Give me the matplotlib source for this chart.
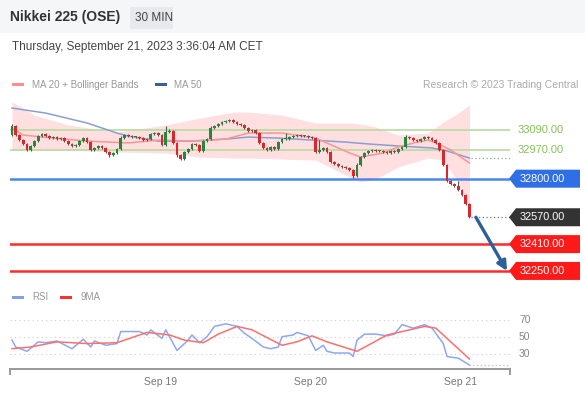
import matplotlib

matplotlib.use("Agg")
import matplotlib.pyplot as plt
from matplotlib.patches import Polygon, Rectangle
import numpy as np

plt.rcParams["font.family"] = ["Liberation Sans", "DejaVu Sans"]

# 30-minute candles, closes
CLOSES = [33114, 33060, 33030, 33007, 32971, 32995, 33024, 33054, 33066, 33054,
          33042, 33048, 33036, 33042, 33024, 33007, 32995, 33001, 33024, 33042,
          33018, 32971, 32983, 32995, 32983, 32959, 32941, 32953, 32977, 33042,
          33060, 33054, 33048, 33048, 33042, 33030, 33036, 33066, 33072, 33060,
          33001, 33078, 33084, 33013, 32941, 32917, 32959, 32977, 33007, 33001,
          32965, 33024, 33036, 33102, 33114, 33126, 33138, 33144, 33150, 33138,
          33126, 33120, 33102, 33084, 33090, 33072, 33013, 32983, 32971, 32989,
          32977, 33018, 33036, 33036, 33048, 33054, 33060, 33054, 33054, 33048,
          33042, 32959, 32971, 32983, 32959, 32899, 32887, 32876, 32870, 32864,
          32852, 32816, 32882, 32929, 32953, 32965, 32971, 32965, 32965, 32959,
          32953, 32965, 32959, 32977, 32989, 33048, 33042, 33030, 33024, 33036,
          33048, 33042, 33030, 33013, 32971, 32882, 32786, 32768, 32756, 32733,
          32703, 32649, 32570]
FIRST_OPEN = 33060
UPPER_WICK = [10, 6, 5, 6, 4, 6, 8, 6, 6, 5,
              4, 6, 5, 6, 4, 5, 4, 6, 5, 6,
              6, 5, 8, 6, 4, 5, 6, 5, 8, 10,
              6, 5, 4, 6, 5, 4, 5, 8, 6, 5,
              6, 36, 10, 6, 5, 4, 8, 6, 6, 5,
              4, 8, 6, 10, 8, 6, 8, 6, 8, 6,
              5, 6, 4, 6, 8, 5, 6, 4, 5, 6,
              4, 8, 6, 36, 6, 5, 6, 5, 4, 5,
              6, 5, 60, 6, 5, 4, 6, 5, 4, 5,
              4, 6, 10, 8, 6, 5, 6, 4, 5, 4,
              5, 6, 4, 6, 8, 12, 6, 5, 4, 6,
              5, 6, 4, 5, 6, 5, 6, 4, 5, 30,
              6, 5, 4]
LOWER_WICK = [6, 5, 6, 5, 8, 4, 5, 6, 4, 5,
              6, 4, 5, 4, 6, 5, 6, 4, 5, 6,
              5, 8, 4, 6, 5, 6, 12, 6, 5, 6,
              4, 5, 6, 4, 5, 6, 4, 5, 6, 5,
              8, 6, 4, 6, 10, 6, 5, 6, 4, 5,
              8, 6, 5, 6, 4, 5, 6, 4, 5, 6,
              4, 5, 6, 4, 5, 6, 8, 5, 6, 4,
              6, 5, 4, 6, 5, 4, 6, 5, 4, 6,
              5, 8, 6, 5, 6, 4, 6, 5, 6, 4,
              8, 12, 6, 4, 5, 6, 4, 5, 6, 4,
              6, 5, 4, 6, 5, 6, 4, 5, 6, 4,
              6, 5, 4, 6, 5, 6, 8, 6, 5, 6,
              5, 6, 6]

MA20_IDX = [0, 3, 11, 20, 31, 39, 48, 57, 63, 72, 81, 90, 93, 99, 103, 108, 111, 113, 117, 122]
MA20_VAL = [33102, 33060, 33042, 33024, 33013, 33030, 33024, 33036, 33072, 33072,
            33042, 32953, 32929, 32953, 32989, 33018, 33030, 33013, 32971, 32893]
MA50_IDX = [0, 9, 20, 28, 31, 39, 48, 57, 63, 71, 80, 89, 95, 103, 112, 116, 122]
MA50_VAL = [33221, 33191, 33132, 33072, 33054, 33024, 33024, 33036, 33048, 33042,
            33030, 33018, 33007, 32995, 32983, 32965, 32923]
BB_IDX = [0, 6, 15, 28, 41, 50, 59, 63, 72, 81, 90, 93, 97, 103, 111, 115, 119, 122]
BB_UPPER = [33257, 33179, 33120, 33078, 33120, 33161, 33197, 33197, 33179, 33132,
            33132, 33125, 33108, 33060, 33072, 33138, 33191, 33239]
BB_LOWER = [32971, 32971, 32971, 32959, 32953, 32929, 32923, 32923, 32917, 32911,
            32810, 32780, 32798, 32870, 32923, 32911, 32780, 32613]

GREEN_LEVELS = [33090, 32970]
BLUE_LEVEL = 32800
LAST_PRICE = 32570
RED_LEVELS = [32410, 32250]
TARGET = 32250

RSI_IDX = [0, 1, 4, 7, 9, 12, 16, 19, 21, 22, 25, 28, 29, 34, 36, 37, 40, 41, 44, 47,
           48, 50, 52, 54, 57, 60, 62, 64, 67, 69, 71, 72, 75, 76, 79, 81, 83, 84, 86, 88,
           90, 91, 92, 94, 97, 100, 102, 104, 107, 110, 112, 115, 116, 119, 122]
RSI_VAL = [46, 38, 33, 44, 43, 45, 36, 47, 38, 45, 40, 42, 56, 56, 52, 58, 48, 58, 34, 46,
           52, 43, 50, 62, 65, 62, 54, 48, 38, 36, 38, 50, 52, 55, 51, 34, 40, 33, 31, 31,
           31, 27, 46, 53, 53, 51, 53, 64, 60, 64, 60, 42, 27, 25, 17]
RSI_MA_IDX = [0, 5, 12, 20, 28, 36, 42, 46, 51, 55, 60, 64, 72, 76, 80, 84, 92, 100, 110, 113, 122]
RSI_MA_VAL = [36, 38, 44, 42, 43, 55, 52, 46, 43, 53, 62, 58, 40, 44, 51, 44, 33, 52, 62, 60, 24]
RSI_LEVELS = [70, 50, 30]

DAY_TICKS = [39.5, 79.5, 119.5]
DAY_LABELS = ["Sep 19", "Sep 20", "Sep 21"]

W, H = 585, 393
fig = plt.figure(figsize=(W / 100, H / 100), dpi=100)


def fx(px):
    return px / W


def fy(py):
    return 1 - py / H


def fig_rect(x0, y0, x1, y1, color):
    fig.patches.append(Rectangle((fx(x0), fy(y1)), fx(x1 - x0), (y1 - y0) / H,
                                 transform=fig.transFigure, color=color, lw=0, zorder=0))


# header
fig_rect(0, 0, W, 33, "#f5f6f7")
fig.text(fx(10), fy(17), "Nikkei 225 (OSE)", fontsize=10, weight="bold", color="#333333", va="center")
fig_rect(130, 7, 173, 29, "#e7e9ec")
fig.text(fx(135), fy(18), "30 MIN", fontsize=8.5, color="#444444", va="center")
fig.text(fx(12), fy(47), "Thursday, September 21, 2023 3:36:04 AM CET", fontsize=8.5,
         color="#444444", va="center")

# legends
fig_rect(12, 83, 24, 86, "#ff8f8f")
fig.text(fx(32), fy(84.5), "MA 20 + Bollinger Bands", fontsize=7, color="#999999", va="center")
fig_rect(155, 83, 167, 86, "#3d5e9e")
fig.text(fx(174), fy(84.5), "MA 50", fontsize=7, color="#999999", va="center")
fig.text(fx(578), fy(84.5), "Research \u00a9 2023 Trading Central", fontsize=7.5,
         color="#aaaaaa", va="center", ha="right")
fig_rect(12, 296, 24, 299, "#7f9ff0")
fig.text(fx(32), fy(297.5), "RSI", fontsize=7, color="#999999", va="center")
fig_rect(60, 296, 72, 299, "#ff3030")
fig.text(fx(80), fy(297.5), "9MA", fontsize=7, color="#999999", va="center")

# main price chart
ax = fig.add_axes([fx(10), fy(280), 500 / W, 180 / H])
ax.set_xlim(-0.53, 132.8)
ax.set_ylim(32196, 33269)
ax.axis("off")

closes = np.array(CLOSES, dtype=float)
opens = np.concatenate([[FIRST_OPEN], closes[:-1]])
idx = np.arange(len(closes))
top = np.maximum(opens, closes)
bot = np.minimum(opens, closes)
highs = top + np.array(UPPER_WICK)
lows = bot - np.array(LOWER_WICK)
up = closes >= opens
colors = np.where(up, "#1e8a3a", "#d9272e")

ax.fill_between(BB_IDX, BB_LOWER, BB_UPPER, color="#ffdfdf", lw=0, zorder=1)
for lvl in GREEN_LEVELS:
    ax.axhline(lvl, color="#b7dba0", lw=1.2, zorder=2)
ax.plot(MA50_IDX, MA50_VAL, color="#8a9fd0", lw=1.1, zorder=3)
ax.plot(MA20_IDX, MA20_VAL, color="#ff9494", lw=1.1, zorder=3)
ax.vlines(idx, lows, highs, color="#555555", lw=0.8, zorder=4)
ax.bar(idx, np.maximum(top - bot, 4), bottom=bot, width=0.75, color=colors, lw=0, zorder=5)

ax.axhline(BLUE_LEVEL, color="#4c86ea", lw=1.8, zorder=2)
for lvl in RED_LEVELS:
    ax.axhline(lvl, color="#ff2a2a", lw=1.8, zorder=2)
ax.hlines(LAST_PRICE, idx[-1] + 0.5, 132.8, color="#777777", lw=0.9, linestyles=(0, (1, 2)), zorder=2)
ax.hlines(MA50_VAL[-1], idx[-1] + 0.5, 132.8, color="#8a9fd0", lw=0.9, linestyles=(0, (1, 2)), zorder=2)

ax.annotate("", xy=(132.0, TARGET), xytext=(123.7, LAST_PRICE),
            arrowprops=dict(arrowstyle="-|>", color="#2d5f9a", lw=2.4, mutation_scale=14,
                            shrinkA=0, shrinkB=0), zorder=6)

yt = ax.get_yaxis_transform()
half = 9 * (33269 - 32196) / 180


def label_box(price, face):
    pts = [(0.998, price), (1.012, price + half), (1.14, price + half),
           (1.14, price - half), (1.012, price - half)]
    ax.add_patch(Polygon(pts, closed=True, transform=yt, color=face, lw=0, clip_on=False, zorder=7))
    ax.text(1.02, price, f"{price:.2f}", transform=yt, fontsize=7.8, color="white",
            va="center", ha="left", zorder=8, clip_on=False)


for lvl in GREEN_LEVELS:
    ax.text(1.016, lvl, f"{lvl:.2f}", transform=yt, fontsize=8, color="#86c05a",
            va="center", ha="left", clip_on=False)
label_box(BLUE_LEVEL, "#2f6fe6")
label_box(LAST_PRICE, "#333333")
for lvl in RED_LEVELS:
    label_box(lvl, "#ff1a1a")

# RSI panel
ax2 = fig.add_axes([fx(10), fy(369), 500 / W, 64 / H])
ax2.set_xlim(-0.53, 132.8)
ax2.set_ylim(12.4, 86.9)
for lvl in RSI_LEVELS:
    ax2.axhline(lvl, color="#cfcfcf", lw=0.8, ls=(0, (1, 3)))
    ax2.text(1.018, lvl, str(lvl), transform=ax2.get_yaxis_transform(), fontsize=7.5,
             color="#888888", va="center", ha="left")
ax2.plot(RSI_IDX, RSI_VAL, color="#8ea8f0", lw=1.1)
ax2.plot(RSI_MA_IDX, RSI_MA_VAL, color="#ff6e6e", lw=1.1)
ax2.hlines(RSI_VAL[-1], RSI_IDX[-1], 132.8, color="#a9bdf5", lw=0.9, linestyles=(0, (1, 2)))

for side in ["top", "left", "right"]:
    ax2.spines[side].set_visible(False)
ax2.spines["bottom"].set_color("#999999")
ax2.spines["bottom"].set_linewidth(1.4)
for xa in (0, 1):
    ax2.plot([xa, xa], [0, -0.08], transform=ax2.transAxes, color="#999999", lw=1.4, clip_on=False)
ax2.set_yticks([])
ax2.set_xticks(DAY_TICKS)
ax2.set_xticklabels(DAY_LABELS)
ax2.tick_params(axis="x", length=0, pad=6, labelsize=7.5, labelcolor="#777777")

fig.savefig("out.png", dpi=100)
